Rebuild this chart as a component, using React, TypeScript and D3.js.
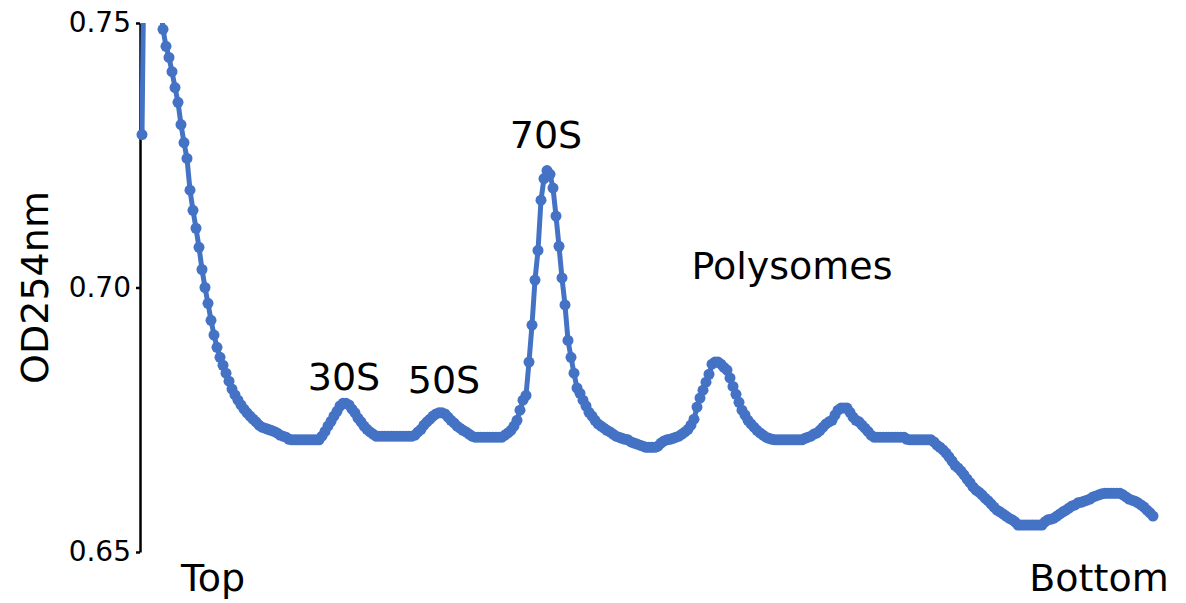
import * as d3 from 'd3'
import { useEffect, useRef } from 'react'

// OD254 readings along the gradient, top -> bottom, split by region
const topDescent = [
  0.7289, 0.780, 0.786, 0.781, 0.772, 0.763, 0.755, 0.7488, 0.7456, 0.7435,
  0.7408, 0.7378, 0.7350, 0.7308, 0.7274, 0.7244, 0.7184, 0.7146, 0.7112, 0.7076,
  0.7034, 0.7000, 0.6970, 0.6938, 0.6910, 0.6887, 0.6868, 0.6853, 0.6838, 0.6823,
  0.6808, 0.6797, 0.6787, 0.6778, 0.6770, 0.6763, 0.6757, 0.6751, 0.6746, 0.6740,
]
const region30S = [
  0.6736, 0.6734, 0.6732, 0.6730, 0.6728, 0.6725, 0.6721, 0.6719, 0.6717, 0.6713,
  0.6712, 0.6712, 0.6712, 0.6712, 0.6712, 0.6712, 0.6712, 0.6712, 0.6712, 0.6712,
  0.6719, 0.6728, 0.6738, 0.6747, 0.6757, 0.6766, 0.6776, 0.6781, 0.6781, 0.6778,
  0.6770, 0.6763, 0.6753, 0.6746, 0.6738, 0.6732, 0.6727, 0.6723, 0.6719,
]
const region50S = [
  0.6719, 0.6719, 0.6719, 0.6719, 0.6719, 0.6719, 0.6719, 0.6719, 0.6719, 0.6719,
  0.6719, 0.6719, 0.6721, 0.6727, 0.6732, 0.6740, 0.6746, 0.6751, 0.6757, 0.6761,
  0.6763, 0.6763, 0.6761, 0.6755, 0.6749, 0.6744, 0.6738, 0.6734, 0.6730, 0.6727,
  0.6723, 0.6719, 0.6717, 0.6717, 0.6717, 0.6717, 0.6717, 0.6717, 0.6717, 0.6717,
  0.6717, 0.6717, 0.6721, 0.6725, 0.6730, 0.6738, 0.6749, 0.6768, 0.6787,
]
const region70S = [
  0.6796, 0.6859, 0.6929, 0.7014, 0.7070, 0.7165, 0.7206, 0.7221, 0.7214, 0.7188,
  0.7135, 0.7078, 0.7018, 0.6967, 0.6900, 0.6868, 0.6838, 0.6810,
]
const polysomeA = [
  0.6800, 0.6787, 0.6776, 0.6764, 0.6757, 0.6749, 0.6742, 0.6738, 0.6734, 0.6730,
  0.6727, 0.6723, 0.6719, 0.6717, 0.6715, 0.6713, 0.6712, 0.6708, 0.6706, 0.6704,
  0.6702, 0.6700, 0.6698, 0.6698, 0.6698, 0.6698, 0.6700, 0.6706, 0.6710, 0.6712,
  0.6713, 0.6715, 0.6717, 0.6719, 0.6723, 0.6727, 0.6732, 0.6740, 0.6751, 0.6774,
  0.6791, 0.6806, 0.6821, 0.6836, 0.6855, 0.6859, 0.6859, 0.6855, 0.6849, 0.6844,
  0.6829, 0.6813, 0.6798, 0.6783, 0.6768, 0.6759, 0.6749, 0.6742, 0.6736, 0.6730,
  0.6725, 0.6721, 0.6717,
]
const polysomeB = [
  0.6715, 0.6713, 0.6712, 0.6712, 0.6712, 0.6712, 0.6712, 0.6712, 0.6712, 0.6712,
  0.6712, 0.6712, 0.6715, 0.6717, 0.6719, 0.6723, 0.6725, 0.6730, 0.6736, 0.6742,
  0.6746, 0.6749, 0.6759, 0.6768, 0.6772, 0.6772, 0.6772, 0.6764, 0.6755, 0.6749,
  0.6746, 0.6740, 0.6734, 0.6728, 0.6721, 0.6717, 0.6717, 0.6717, 0.6717, 0.6717,
  0.6717, 0.6717, 0.6717, 0.6717, 0.6717, 0.6717, 0.6713, 0.6712, 0.6712, 0.6712,
  0.6712, 0.6712, 0.6712, 0.6712, 0.6712,
]
const bottomRegion = [
  0.6708, 0.6702, 0.6698, 0.6693, 0.6687, 0.6680, 0.6672, 0.6664, 0.6659, 0.6653,
  0.6646, 0.6638, 0.6631, 0.6623, 0.6617, 0.6613, 0.6608, 0.6602, 0.6597, 0.6591,
  0.6585, 0.6579, 0.6576, 0.6572, 0.6568, 0.6564, 0.6561, 0.6557, 0.6551, 0.6551,
  0.6551, 0.6551, 0.6551, 0.6551, 0.6551, 0.6551, 0.6551, 0.6557, 0.6561, 0.6562,
  0.6564, 0.6568, 0.6572, 0.6576, 0.6579, 0.6583, 0.6587, 0.6589, 0.6593, 0.6594,
  0.6596, 0.6598, 0.6600, 0.6604, 0.6606, 0.6608, 0.6610, 0.6611, 0.6611, 0.6611,
  0.6611, 0.6611, 0.6611, 0.6608, 0.6604, 0.6600, 0.6598, 0.6596, 0.6593, 0.6589,
  0.6585, 0.6579, 0.6574, 0.6568,
]

const yTicks = [0.65, 0.70, 0.75]

const peakLabels = [
  { text: '30S', x: 344, y: 390 },
  { text: '50S', x: 444, y: 393 },
  { text: '70S', x: 546, y: 148 },
  { text: 'Polysomes', x: 792, y: 279 },
  { text: 'Top', x: 213, y: 591 },
  { text: 'Bottom', x: 1099, y: 591 },
]

const App = () => {
  const svgRef = useRef<SVGSVGElement>(null)

  useEffect(() => {
    const width = 1186
    const height = 603
    const font = "'DejaVu Sans', Verdana, sans-serif"
    const color = '#4472C4'

    const values = [
      ...topDescent, ...region30S, ...region50S, ...region70S,
      ...polysomeA, ...polysomeB, ...bottomRegion,
    ]
    const data = values.map((v, i) => ({ i, v }))

    const xScale = d3.scaleLinear()
      .domain([0, data.length - 1])
      .range([142, 1153])

    const yScale = d3.scaleLinear()
      .domain([0.65, 0.75])
      .range([552, 23])

    const svg = d3.select(svgRef.current)
    svg.selectAll('*').remove()

    svg.append('defs')
      .append('clipPath')
      .attr('id', 'plot-clip')
      .append('rect')
      .attr('x', 140)
      .attr('y', yScale(0.75))
      .attr('width', width - 140)
      .attr('height', height)

    // y axis
    const axis = svg.append('g')
      .attr('transform', 'translate(140,0)')
      .call(d3.axisLeft(yScale)
        .tickValues(yTicks)
        .tickFormat(d3.format('.2f'))
        .tickSizeInner(4)
        .tickSizeOuter(0)
        .tickPadding(5))
    axis.select('.domain').attr('stroke', '#000').attr('stroke-width', 2.5)
    axis.selectAll('.tick line').attr('stroke', '#000').attr('stroke-width', 2.5)
    axis.selectAll('.tick text')
      .attr('font-family', font)
      .attr('font-size', 28)
      .attr('fill', '#000')

    svg.append('text')
      .attr('transform', `translate(48,${yScale(0.70)}) rotate(-90)`)
      .attr('text-anchor', 'middle')
      .attr('font-family', font)
      .attr('font-size', 38)
      .attr('fill', '#000')
      .text('OD254nm')

    const line = d3.line<{ i: number; v: number }>()
      .x(d => xScale(d.i))
      .y(d => yScale(d.v))

    svg.append('path')
      .datum(data)
      .attr('clip-path', 'url(#plot-clip)')
      .attr('d', line)
      .attr('fill', 'none')
      .attr('stroke', color)
      .attr('stroke-width', 5)
      .attr('stroke-linejoin', 'round')

    svg.append('g')
      .selectAll('circle')
      .data(data.filter(d => d.v <= 0.7502))
      .join('circle')
      .attr('cx', d => xScale(d.i))
      .attr('cy', d => yScale(d.v))
      .attr('r', 5.5)
      .attr('fill', color)

    svg.append('g')
      .selectAll('text')
      .data(peakLabels)
      .join('text')
      .attr('x', d => d.x)
      .attr('y', d => d.y)
      .attr('text-anchor', 'middle')
      .attr('font-family', font)
      .attr('font-size', 38)
      .attr('fill', '#000')
      .text(d => d.text)
  }, [])

  return (
    <svg
      ref={svgRef}
      width={1186}
      height={603}
      style={{ position: 'absolute', left: 0, top: 0, background: '#fff' }}
    />
  )
}

export default App
